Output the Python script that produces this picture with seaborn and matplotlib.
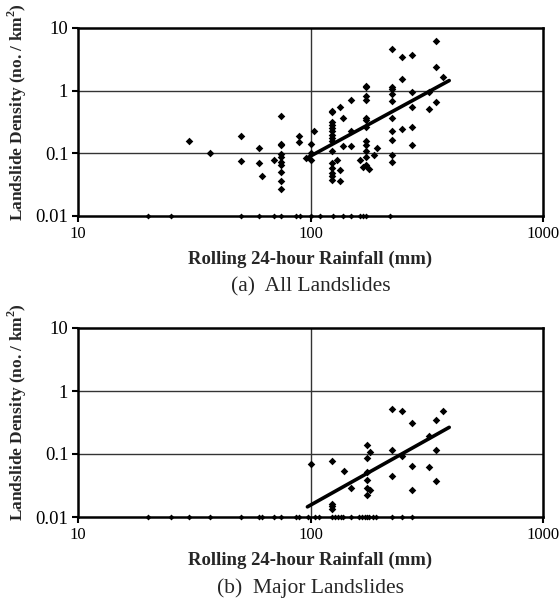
import numpy as np
import pandas as pd
import matplotlib
matplotlib.use("Agg")
import matplotlib.pyplot as plt
import seaborn as sns
from matplotlib.ticker import FixedLocator, NullLocator, FixedFormatter

sns.set_theme(style="white")
plt.rcParams['font.family'] = ['Liberation Serif', 'DejaVu Serif']
plt.rcParams['mathtext.fontset'] = 'custom'
plt.rcParams['mathtext.rm'] = 'Liberation Serif'
plt.rcParams['mathtext.bf'] = 'Liberation Serif:bold'

# ---------------- data: (a) all landslides ----------------
all_rain = [30, 37, 50, 50, 60, 60, 62, 70,
            75, 75, 75, 75, 75, 75, 75, 75, 75, 75,
            89, 89, 96, 100, 100, 100, 104,
            124, 124, 124, 124, 124, 124, 124, 124, 124, 124, 124, 124, 124, 124, 124,
            130, 134, 134, 134, 138, 138, 149, 149, 149, 163, 168,
            173, 173, 173, 173, 173, 173, 173, 173, 173, 173, 173, 173,
            179, 187, 194,
            224, 224, 224, 224, 224, 224, 224, 224, 224, 224,
            248, 248, 248, 274, 274, 274, 274, 274, 323, 323, 346, 346, 346, 372]
all_density = [0.155, 0.10, 0.186, 0.075, 0.122, 0.069, 0.044, 0.079,
               0.397, 0.14, 0.135, 0.098, 0.087, 0.074, 0.064, 0.05, 0.036, 0.027,
               0.19, 0.149, 0.084, 0.14, 0.103, 0.079, 0.229,
               0.48, 0.45, 0.32, 0.286, 0.254, 0.224, 0.199, 0.176, 0.16, 0.108, 0.071, 0.059, 0.049, 0.043, 0.038,
               0.079, 0.546, 0.054, 0.036, 0.364, 0.132, 0.698, 0.229, 0.13, 0.079, 0.061,
               1.2, 1.15, 0.81, 0.72, 0.364, 0.335, 0.268, 0.155, 0.137, 0.107, 0.088, 0.065,
               0.056, 0.094, 0.122,
               4.56, 1.15, 1.06, 0.89, 0.673, 0.364, 0.229, 0.164, 0.094, 0.074,
               3.4, 1.55, 0.249, 3.7, 0.937, 0.546, 0.268, 0.137, 0.937, 0.514, 6.27, 2.41, 0.665, 1.63]
all_zero_rain = [20, 25, 50, 60, 70, 75, 87, 90, 100, 110, 125, 138, 150, 163, 168, 173, 220]
all_trend_rain = [97, 395]
all_trend_density = [0.085, 1.45]

# ---------------- data: (b) major landslides ----------------
major_rain = [100, 124, 124, 124, 124, 140, 150,
              175, 175, 175, 175, 175, 175, 180, 180,
              224, 224, 224, 248, 248, 273, 273, 273, 323, 323, 346, 346, 346, 372]
major_density = [0.069, 0.078, 0.0163, 0.0149, 0.0136, 0.053, 0.0286,
                 0.138, 0.085, 0.052, 0.0387, 0.0286, 0.0224, 0.108, 0.027,
                 0.52, 0.115, 0.044, 0.488, 0.094, 0.306, 0.064, 0.027, 0.193, 0.062, 0.346, 0.115, 0.037, 0.482]
major_zero_rain = [20, 25, 30, 37, 50, 60, 62, 70, 75, 87, 89, 98, 105, 109, 124, 127, 131, 135,
                   138, 149, 162, 167, 171, 175, 179, 185, 192, 224, 248, 273]
major_trend_rain = [97, 395]
major_trend_density = [0.0145, 0.265]

zero_level = 0.01
x_ticks = [10, 100, 1000]
x_ticklabels = ["10", "100", "1000"]
y_ticks = [0.01, 0.1, 1, 10]
y_ticklabels = ["0.01", "0.1", "1", "10"]
captions = ["(a)  All Landslides", "(b)  Major Landslides"]
xlabel = "Rolling 24-hour Rainfall (mm)"
ylabel = r"Landslide Density (no. / km$^\mathbf{2}$)"

fig = plt.figure(figsize=(5.6, 6.0), dpi=100)
ax_top = fig.add_axes([78/560, 1-216/600, 465/560, 188/600])
ax_bot = fig.add_axes([78/560, 1-517/600, 465/560, 189/600])

panels = [
    (ax_top, all_rain, all_density, all_zero_rain, all_trend_rain, all_trend_density, captions[0]),
    (ax_bot, major_rain, major_density, major_zero_rain, major_trend_rain, major_trend_density, captions[1]),
]

for ax, rx, dy, zx, tx, ty, cap in panels:
    ax.set_xscale("log")
    ax.set_yscale("log")
    ax.set_xlim(10, 1000)
    ax.set_ylim(0.01, 10)
    for gy in [0.1, 1]:
        ax.axhline(gy, color="#333333", lw=1.0, zorder=1)
    ax.axvline(100, color="#333333", lw=1.0, zorder=1)

    df = pd.DataFrame({"rain": rx, "density": dy})
    sns.scatterplot(data=df, x="rain", y="density", ax=ax, marker="D", s=15,
                    color="black", edgecolor="black", linewidth=0, zorder=3)
    dz = pd.DataFrame({"rain": zx, "density": [zero_level] * len(zx)})
    sns.scatterplot(data=dz, x="rain", y="density", ax=ax, marker="D", s=9,
                    color="black", edgecolor="black", linewidth=0, zorder=4, clip_on=False)
    dt = pd.DataFrame({"rain": tx, "density": ty})
    sns.lineplot(data=dt, x="rain", y="density", ax=ax, color="black", lw=2.6, zorder=5)

    ax.xaxis.set_major_locator(FixedLocator(x_ticks))
    ax.xaxis.set_major_formatter(FixedFormatter(x_ticklabels))
    ax.xaxis.set_minor_locator(NullLocator())
    ax.yaxis.set_major_locator(FixedLocator(y_ticks))
    ax.yaxis.set_major_formatter(FixedFormatter(y_ticklabels))
    ax.yaxis.set_minor_locator(NullLocator())
    ax.tick_params(axis="both", which="major", direction="out", length=4, width=1.5,
                   colors="black", pad=3, bottom=True, left=True)
    ax.tick_params(axis="x", labelsize=12)
    ax.tick_params(axis="y", labelsize=13.5)
    for sp in ax.spines.values():
        sp.set_color("black")
        sp.set_linewidth(1.8)
    ax.set_xlabel(xlabel, fontsize=13.5, fontweight="bold")
    ax.xaxis.set_label_coords(0.5, -43/188)
    ax.xaxis.label.set_va("center")
    ax.set_ylabel(ylabel, fontsize=12.5, fontweight="bold")
    ax.yaxis.set_label_coords(-61/465, 0.5 + 10/188)
    ax.yaxis.label.set_va("center")
    ax.text(0.5, -71/188, cap, transform=ax.transAxes, ha="center", va="center", fontsize=15.5)
    ax.set_facecolor("white")

fig.savefig("out.png", dpi=100, facecolor="white")
